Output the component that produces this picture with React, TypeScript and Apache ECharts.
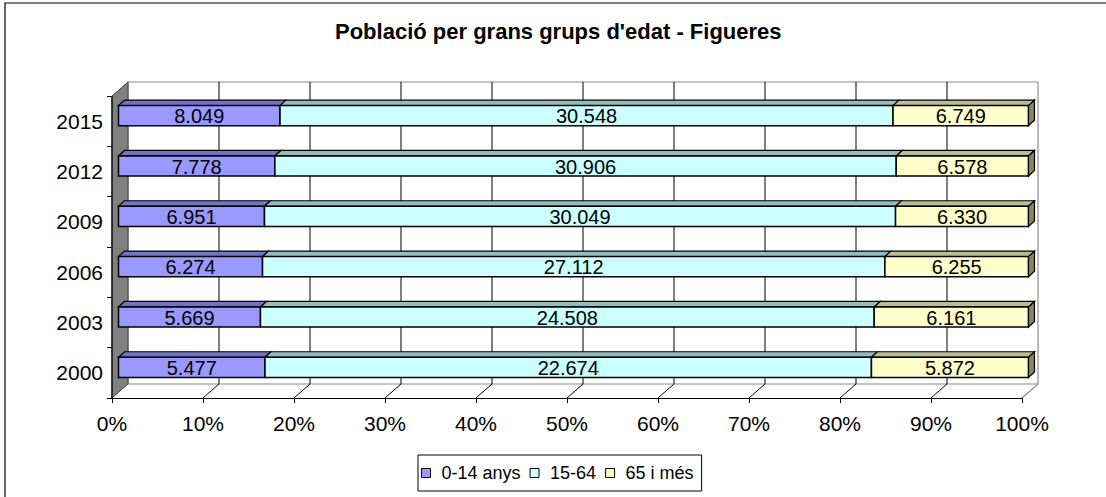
import React, { useEffect, useRef } from "react";
import * as echarts from "echarts";

const years = ["2000", "2003", "2006", "2009", "2012", "2015"];
const groupNames = ["0-14 anys", "15-64", "65 i més"];
const young = [5477, 5669, 6274, 6951, 7778, 8049];
const adult = [22674, 24508, 27112, 30049, 30906, 30548];
const old = [5872, 6161, 6255, 6330, 6578, 6749];
const pctTicks = [0, 10, 20, 30, 40, 50, 60, 70, 80, 90, 100];

const FRONT = ["#9999FF", "#CCFFFF", "#FFFFCC"];
const TOP = ["#7272C6", "#93BDBD", "#BDBD95"];
const SIDE = "#85855E";
const FONT = "'Liberation Sans', Arial, sans-serif";

// depth offsets
const DX_F = 6.5, DY_F = -5.5; // bar front face relative to front plane
const DX_B = 6, DY_B = -5.5; // bar depth
const DX_W = 16, DY_W = -14; // back wall relative to front plane

const fmt = (v: number) => String(v).replace(/\B(?=(\d{3})+(?!\d))/g, ".");

export default function App() {
  const ref = useRef<HTMLDivElement>(null);
  useEffect(() => {
    document.body.style.margin = "0";
    const chart = echarts.init(ref.current!, null, { renderer: "svg" });
    const groups = [young, adult, old];
    const totals = years.map((_, i) => young[i] + adult[i] + old[i]);
    const segSeries = groups.map((vals, k) => {
      const data = years.map((_, i) => {
        let start = 0;
        for (let j = 0; j < k; j++) start += groups[j][i];
        const s = (start / totals[i]) * 100;
        const e = ((start + vals[i]) / totals[i]) * 100;
        return [i, s, e, vals[i]];
      });
      return {
        type: "custom",
        name: groupNames[k],
        coordinateSystem: "cartesian2d",
        itemStyle: { color: FRONT[k] },
        encode: { x: [1, 2], y: 0 },
        z: 3,
        data,
        renderItem: (params: any, api: any) => {
          const cat = api.value(0);
          const p0 = api.coord([api.value(1), cat]);
          const p1 = api.coord([api.value(2), cat]);
          const band = api.size([0, 1])[1];
          const h = band * 0.4;
          const x0 = p0[0] + DX_F;
          const x1 = p1[0] + DX_F;
          const yc = p0[1] + DY_F;
          const yT = yc - h / 2;
          const yB = yc + h / 2;
          const children: any[] = [
            {
              type: "polygon",
              shape: { points: [[x0, yT], [x1, yT], [x1 + DX_B, yT + DY_B], [x0 + DX_B, yT + DY_B]] },
              style: { fill: TOP[k], stroke: "#000", lineWidth: 1.2 },
            },
            {
              type: "rect",
              shape: { x: x0, y: yT, width: x1 - x0, height: h },
              style: { fill: FRONT[k], stroke: "#000", lineWidth: 1.5 },
            },
          ];
          if (k === 2) {
            children.push({
              type: "polygon",
              shape: { points: [[x1, yT], [x1 + DX_B, yT + DY_B], [x1 + DX_B, yB + DY_B], [x1, yB]] },
              style: { fill: SIDE, stroke: "#000", lineWidth: 1.2 },
            });
          }
          children.push({
            type: "text",
            x: (x0 + x1) / 2,
            y: yc + 0.5,
            style: {
              text: fmt(api.value(3)),
              align: "center",
              verticalAlign: "middle",
              fontSize: 20,
              fontFamily: FONT,
              fill: "#000",
            },
          });
          return { type: "group", children };
        },
      };
    });

    const frameSeries = {
      type: "custom",
      name: "frame",
      coordinateSystem: "cartesian2d",
      encode: { x: 0, y: 1 },
      z: 1,
      silent: true,
      data: pctTicks.map((t) => [t, 0]),
      renderItem: (params: any, api: any) => {
        const cs = params.coordSys;
        const t = api.value(0);
        const x = api.coord([t, 0])[0];
        const L = cs.x, R = cs.x + cs.width, T = cs.y, B = cs.y + cs.height;
        const children: any[] = [];
        if (params.dataIndex === 0) {
          children.push(
            {
              type: "rect",
              shape: { x: L + DX_W, y: T + DY_W, width: R - L, height: B - T },
              style: { fill: "#fff", stroke: "#8c8c8c", lineWidth: 1.2 },
            },
            {
              type: "polygon",
              shape: { points: [[L, T], [L + DX_W, T + DY_W], [L + DX_W, B + DY_W], [L, B]] },
              style: { fill: "#808080", stroke: "#404040", lineWidth: 1 },
            },
            {
              type: "line",
              shape: { x1: R, y1: B, x2: R + DX_W, y2: B + DY_W },
              style: { stroke: "#8c8c8c", lineWidth: 1.2 },
            },
            {
              type: "line",
              shape: { x1: L, y1: T, x2: L, y2: B },
              style: { stroke: "#000", lineWidth: 1.2 },
            }
          );
        } else if (t < 100) {
          children.push(
            {
              type: "line",
              shape: { x1: x, y1: B, x2: x + DX_W, y2: B + DY_W },
              style: { stroke: "#000", lineWidth: 1 },
            },
            {
              type: "line",
              shape: { x1: x + DX_W, y1: B + DY_W, x2: x + DX_W, y2: T + DY_W },
              style: { stroke: "#000", lineWidth: 1 },
            }
          );
        }
        return { type: "group", children };
      },
    };

    chart.setOption({
      animation: false,
      backgroundColor: "#fff",
      title: {
        text: "Població per grans grups d'edat - Figueres",
        left: 335,
        top: 20,
        padding: 0,
        textStyle: { fontSize: 22, fontWeight: "bold", fontFamily: FONT, color: "#000" },
      },
      legend: {
        data: groupNames,
        left: 418,
        top: 455,
        orient: "horizontal",
        icon: "rect",
        itemWidth: 9,
        itemHeight: 9,
        itemGap: 9,
        padding: [9, 8, 9, 3],
        borderColor: "#000",
        borderWidth: 1,
        itemStyle: { borderColor: "#000", borderWidth: 1 },
        textStyle: { fontSize: 18, fontFamily: FONT, color: "#000", padding: [0, 0, 0, 6] },
      },
      grid: { left: 112, top: 96, width: 910, height: 302, containLabel: false },
      xAxis: {
        type: "value",
        min: 0,
        max: 100,
        interval: 10,
        axisLine: { show: true, lineStyle: { color: "#000", width: 1.2 } },
        axisTick: { show: true, length: 5, lineStyle: { color: "#000" } },
        splitLine: { show: false },
        axisLabel: {
          formatter: "{value}%",
          fontSize: 21,
          fontFamily: FONT,
          color: "#000",
          margin: 15,
        },
      },
      yAxis: {
        type: "category",
        data: years,
        axisLine: { show: true, lineStyle: { color: "#000", width: 1.2 } },
        axisTick: { show: true, length: 5, lineStyle: { color: "#000" } },
        axisLabel: { fontSize: 21, fontFamily: FONT, color: "#000", margin: 9 },
        splitLine: { show: false },
      },
      graphic: [
        {
          type: "rect",
          shape: { x: 5, y: 3, width: 1130, height: 520 },
          style: { fill: "none", stroke: "#000", lineWidth: 1.2 },
          silent: true,
          z: 100,
        },
      ],
      series: [frameSeries, ...segSeries],
    });
    return () => chart.dispose();
  }, []);
  return <div ref={ref} style={{ width: 1106, height: 497 }} />;
}
